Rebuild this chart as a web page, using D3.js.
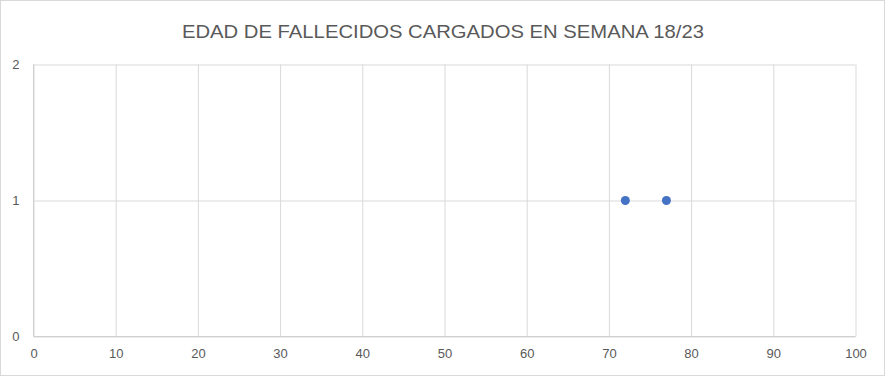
<!DOCTYPE html>
<html><head><meta charset="utf-8">
<script src="https://cdn.jsdelivr.net/npm/d3@7"></script>
<style>body{margin:0;background:#fff}svg{display:block}</style>
</head><body>
<svg id="c" width="886" height="377"></svg>
<script>
const title = "EDAD DE FALLECIDOS CARGADOS EN SEMANA 18/23";
const ages = [72, 77];
const counts = [1, 1];
const xTicks = [0,10,20,30,40,50,60,70,80,90,100];
const yTicks = [0,1,2];

const svg = d3.select("#c");
const W = 886, H = 377;
const m = {l:33.5, r:30.5, t:64.5, b:40.5};
svg.append("rect").attr("x",0.5).attr("y",0.5).attr("width",W-2).attr("height",H-2)
  .attr("fill","#fff").attr("stroke","#d9d9d9");

const x = d3.scaleLinear().domain([0,100]).range([m.l, W-m.r]);
const y = d3.scaleLinear().domain([0,2]).range([H-m.b, m.t]);

const g = svg.append("g");
g.append("g").attr("transform",`translate(0,${H-m.b})`)
  .call(d3.axisBottom(x).tickValues(xTicks).tickSize(-(H-m.b-m.t)).tickPadding(12))
  .call(s=>{s.select(".domain").remove();s.selectAll("line").attr("stroke","#d9d9d9");
    s.selectAll("text").attr("fill","#595959").style("font-family","Liberation Sans, Arial, sans-serif").style("font-size","13px");});
g.append("g").attr("transform",`translate(${m.l},0)`)
  .call(d3.axisLeft(y).tickValues(yTicks).tickFormat(d3.format("d")).tickSize(-(W-m.l-m.r)).tickPadding(14))
  .call(s=>{s.select(".domain").remove();s.selectAll("line").attr("stroke","#d9d9d9");
    s.selectAll("text").attr("fill","#595959").style("font-family","Liberation Sans, Arial, sans-serif").style("font-size","13px");});
g.append("line").attr("x1",m.l).attr("x2",W-m.r).attr("y1",y(0)).attr("y2",y(0)).attr("stroke","#d0d0d0");
g.append("line").attr("x1",m.l).attr("x2",m.l).attr("y1",y(0)).attr("y2",y(2)).attr("stroke","#d0d0d0");

g.selectAll("circle").data(ages.map((a,i)=>({a,c:counts[i]}))).join("circle")
  .attr("cx",d=>x(d.a)).attr("cy",d=>y(d.c)).attr("r",4.5).attr("fill","#4472c4");

svg.append("text").attr("x",443).attr("y",38).attr("text-anchor","middle")
  .attr("fill","#595959").style("font-family","Liberation Sans, Arial, sans-serif").style("font-size","19px")
  .attr("textLength",522).attr("lengthAdjust","spacingAndGlyphs").text(title);
</script>
</body></html>
